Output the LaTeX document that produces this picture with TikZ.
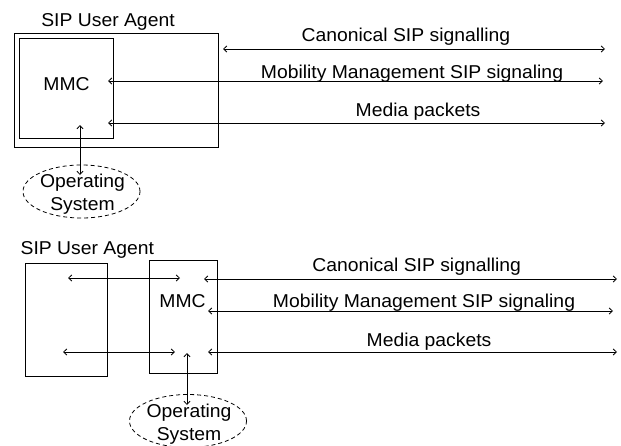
\documentclass[tikz,border=0pt]{standalone}
\usepackage{fontspec}
\setmainfont{Liberation Sans}[FakeStretch=1.04]
\usetikzlibrary{arrows.meta,shapes.geometric}
\begin{document}
\begin{tikzpicture}[x=1pt,y=-1pt,
  txt/.style={font=\fontsize{18.6}{22.7}\selectfont, inner sep=0pt, anchor=base},
  boxn/.style={draw, line width=0.9pt, minimum width=#1, inner sep=0pt},
  osn/.style={draw, dashed, dash pattern=on 4pt off 3pt, line width=0.8pt, ellipse,
     minimum width=117pt, minimum height=53pt, inner sep=0pt},
  ostxt/.style={font=\fontsize{18.6}{22.7}\selectfont, inner sep=0pt, anchor=base, align=center},
  link/.style={line width=0.8pt, {Straight Barb[length=3.2pt,width=6pt]}-{Straight Barb[length=3.2pt,width=6pt]}}
]
\clip (0,0) rectangle (621,445);
\useasboundingbox (0,0) rectangle (621,445);

% ---------- top diagram ----------
\node[txt] (ua1) at (108,26.7) {SIP User Agent};
\node[boxn=204pt, minimum height=114pt] (outer1) at (116,90) {};
\node[boxn=94pt, minimum height=100pt] (mmcbox1) at (66,88) {};
\node[txt] (mmc1) at (66.5,90.7) {MMC};
\node[osn] (os1) at (81.5,191.5) {};
\node[ostxt] (ost1) at (82.5,210) {Operating\\System};

\coordinate (c1a) at (223,49);  \coordinate (c1b) at (605,49);
\coordinate (m1a) at (108,81);  \coordinate (m1b) at (603,81);
\coordinate (p1a) at (108,123); \coordinate (p1b) at (605,123);
\coordinate (v1a) at (80,125);  \coordinate (v1b) at (80,175);

\draw[link] (c1a) -- (c1b);
\draw[link] (m1a) -- (m1b);
\draw[link] (p1a) -- (p1b);
\draw[link] (v1a) -- (v1b);

\node[txt] (lc1) at (406,41.6) {Canonical SIP signalling};
\node[txt] (lm1) at (412,78.3) {Mobility Management SIP signaling};
\node[txt] (lp1) at (418,116.7) {Media packets};

% ---------- bottom diagram ----------
\node[txt] (ua2) at (87.3,254.3) {SIP User Agent};
\node[boxn=82pt, minimum height=113pt] (left2) at (66,319.5) {};
\node[boxn=68pt, minimum height=113pt] (mmcbox2) at (183,316.5) {};
\node[txt] (mmc2) at (182.5,307.3) {MMC};
\node[osn] (os2) at (188,421) {};
\node[ostxt] (ost2) at (189,440.5) {Operating\\System};

\coordinate (a2a) at (68,278);  \coordinate (a2b) at (180,278);
\coordinate (b2a) at (63,352);  \coordinate (b2b) at (175,352);
\coordinate (c2a) at (204,279); \coordinate (c2b) at (617,279);
\coordinate (m2a) at (208,311); \coordinate (m2b) at (613,311);
\coordinate (p2a) at (208,352); \coordinate (p2b) at (617,352);
\coordinate (v2a) at (187,353); \coordinate (v2b) at (187,405);

\draw[link] (a2a) -- (a2b);
\draw[link] (b2a) -- (b2b);
\draw[link] (c2a) -- (c2b);
\draw[link] (m2a) -- (m2b);
\draw[link] (p2a) -- (p2b);
\draw[link] (v2a) -- (v2b);

\node[txt] (lc2) at (416.7,271.7) {Canonical SIP signalling};
\node[txt] (lm2) at (424,307.3) {Mobility Management SIP signaling};
\node[txt] (lp2) at (429,346) {Media packets};
\end{tikzpicture}
\end{document}
